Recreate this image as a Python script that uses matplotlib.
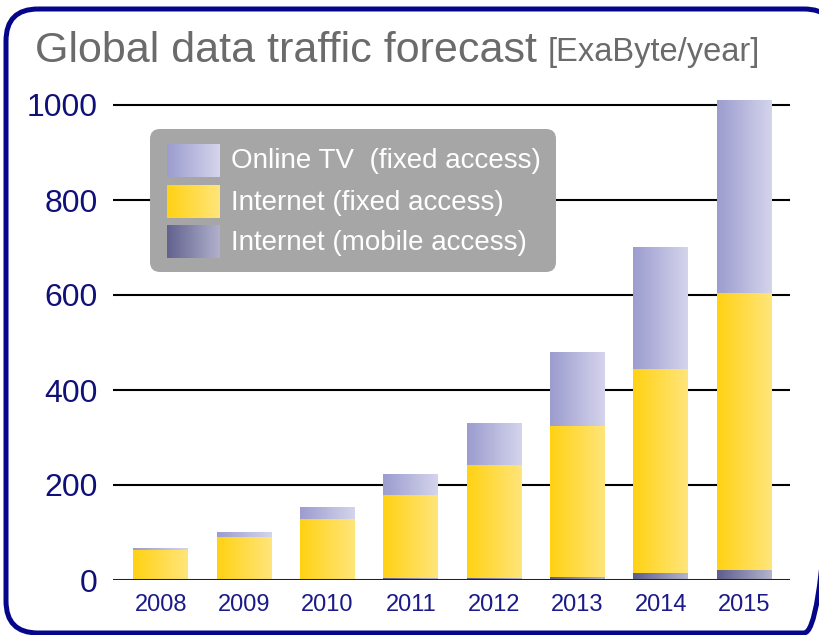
import numpy as np
import matplotlib
matplotlib.use("Agg")
import matplotlib.pyplot as plt
from matplotlib.patches import FancyBboxPatch
from matplotlib.colors import LinearSegmentedColormap
from matplotlib import font_manager

# ---------------- data ----------------
years = ["2008", "2009", "2010", "2011", "2012", "2013", "2014", "2015"]
mobile = [1, 1, 2, 5, 5, 7, 14, 21]                 # Internet (mobile access)
internet = [63, 90, 126, 174, 237, 317, 430, 583]   # Internet (fixed access)
online_tv = [3, 10, 24, 44, 88, 154, 255, 406]      # Online TV (fixed access)
yticks = [0, 200, 400, 600, 800, 1000]
series_labels = ["Online TV  (fixed access)", "Internet (fixed access)", "Internet (mobile access)"]
title_main = "Global data traffic forecast"
title_unit = "[ExaByte/year]"

# ---------------- fonts ----------------
avail = {f.name for f in font_manager.fontManager.ttflist}
base_font = "Liberation Sans" if "Liberation Sans" in avail else "DejaVu Sans"
plt.rcParams["font.family"] = [base_font, "DejaVu Sans"]

W, H = 819, 635
fig = plt.figure(figsize=(W / 100, H / 100), dpi=100)
fig.patch.set_facecolor("white")

# background / frame axes in pixel coordinates
bg = fig.add_axes([0, 0, 1, 1], zorder=0)
bg.set_xlim(0, W)
bg.set_ylim(H, 0)
bg.axis("off")
frame = FancyBboxPatch((6, 9), 830, 624, boxstyle="round,pad=0,rounding_size=32",
                       fill=False, edgecolor="#06068A", linewidth=3.6)
bg.add_patch(frame)
bg.text(35, 62, title_main, fontsize=31, color="#6B6B6B", va="baseline", ha="left")
bg.text(548, 61, title_unit, fontsize=23.5, color="#6B6B6B", va="baseline", ha="left")

# ---------------- main axes ----------------
ax_left, ax_right = 113 / W, 790 / W
ax_bottom = 1 - 580 / H
ymax = 1020
top_px = 580 - ymax * 0.475
ax = fig.add_axes([ax_left, ax_bottom, ax_right - ax_left, (580 - top_px) / H], zorder=1)
ax.patch.set_alpha(0)

x = np.arange(len(years))
bw = 0.66

def grad(c1, c2):
    return LinearSegmentedColormap.from_list("g", [c1, c2])

cm_mobile = grad("#5E5E8E", "#B4B4CE")
cm_inet = grad("#FFD214", "#FFE57A")
cm_tv = grad("#9C9CCF", "#D4D4EC")
gradient = np.linspace(0, 1, 64).reshape(1, -1)

mob = np.array(mobile)
inet = np.array(internet)
tv = np.array(online_tv)
layers = [(mob, np.zeros_like(mob), cm_mobile),
          (inet, mob, cm_inet),
          (tv, mob + inet, cm_tv)]
for vals, bottoms, cmap in layers:
    bars = ax.bar(x, vals, bw, bottom=bottoms, color="none", edgecolor="none", zorder=3)
    for p in bars.patches:
        x0, y0, w, h = p.get_x(), p.get_y(), p.get_width(), p.get_height()
        ax.imshow(gradient, cmap=cmap, extent=[x0, x0 + w, y0, y0 + h],
                  aspect="auto", zorder=3, interpolation="bicubic")

ax.set_xlim(-0.575, 7.55)
ax.set_ylim(0, ymax)
ax.set_yticks(yticks)
ax.set_yticklabels([str(v) for v in yticks])
ax.set_xticks(x)
ax.set_xticklabels(years)
for yv in yticks[1:]:
    ax.axhline(yv, color="black", lw=1.5, zorder=1)
ax.axhline(0, color="#222222", lw=2.2, zorder=4)
for s in ax.spines.values():
    s.set_visible(False)
ax.tick_params(axis="y", length=0, pad=11, labelsize=23, labelcolor="#10107A")
ax.tick_params(axis="x", length=0, pad=10, labelsize=17, labelcolor="#1A1A8A")

# ---------------- legend (overlay) ----------------
lg = fig.add_axes([0, 0, 1, 1], zorder=5)
lg.set_xlim(0, W)
lg.set_ylim(H, 0)
lg.axis("off")
lg.add_patch(FancyBboxPatch((150, 129), 406, 143, boxstyle="round,pad=0,rounding_size=10",
                            facecolor="#A6A6A6", edgecolor="none", zorder=1))
rows = [(144, 177, cm_tv), (185, 218, cm_inet), (225, 258, grad("#62628F", "#B0B0CC"))]
for (y0, y1, cmap), lab in zip(rows, series_labels):
    lg.imshow(gradient, cmap=cmap, extent=[167, 220, y1, y0], aspect="auto",
              interpolation="bicubic", zorder=3)
    lg.text(231, (y0 + y1) / 2 + 1, lab, color="white", fontsize=20, va="center", ha="left", zorder=4)
lg.set_xlim(0, W)
lg.set_ylim(H, 0)

fig.savefig("out.png", dpi=100, facecolor="white")
